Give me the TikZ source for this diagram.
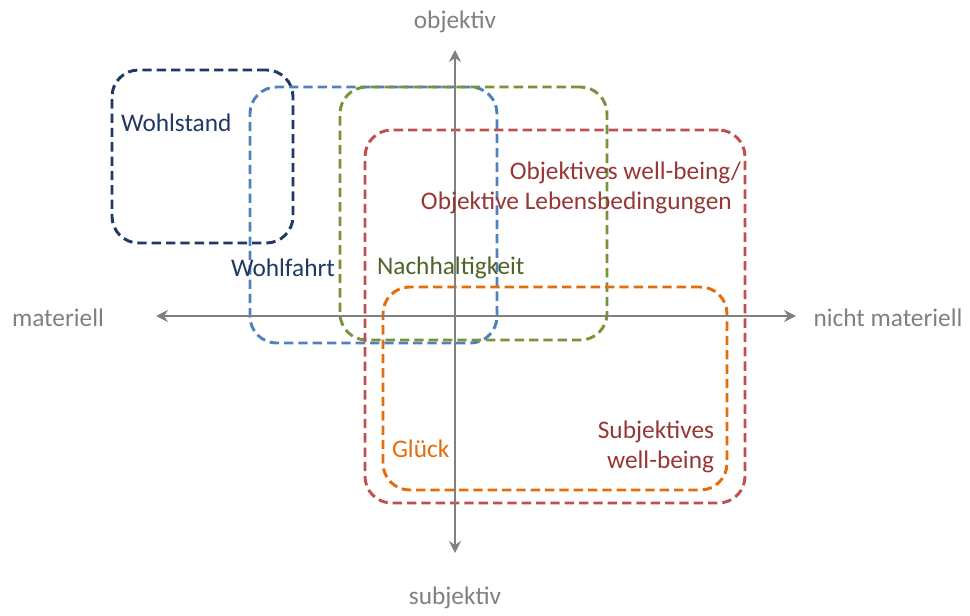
\documentclass[tikz,border=0pt]{standalone}
\usepackage{fontspec}
\setmainfont{Carlito}
\usetikzlibrary{arrows.meta}
\definecolor{navyc}{RGB}{31,56,100}
\definecolor{bluec}{RGB}{79,129,189}
\definecolor{greenc}{RGB}{119,147,60}
\definecolor{redc}{RGB}{192,80,77}
\definecolor{orangec}{RGB}{228,108,10}
\definecolor{navyt}{RGB}{31,56,100}
\definecolor{greent}{RGB}{79,98,40}
\definecolor{redt}{RGB}{149,55,53}
\definecolor{grayc}{RGB}{128,128,128}
\tikzset{
  region/.style={draw, rectangle, rounded corners=20pt, line width=2.2pt,
    dash pattern=on 7pt off 3.75pt, inner sep=0pt, outer sep=0pt},
  lbl/.style={inner sep=0pt, outer sep=0pt, font=\fontsize{19}{22.5}\selectfont},
  axis/.style={draw=grayc, line width=1.9pt,
    {Stealth[length=9pt,width=9pt,inset=3pt]}-{Stealth[length=9pt,width=9pt,inset=3pt]}}
}
\begin{document}
\begin{tikzpicture}[x=0.75pt,y=-0.75pt]
\useasboundingbox (0,0) rectangle (970,616);
% regions
\node[region, draw=navyc, minimum width=135.75pt, minimum height=129.75pt] (wohlstand) at (202.5,156.5) {};
\node[region, draw=bluec, minimum width=185.25pt, minimum height=192pt] (wohlfahrt) at (373.5,215) {};
\node[region, draw=greenc, minimum width=200.25pt, minimum height=189.75pt] (nachh) at (473.5,213.5) {};
\node[region, draw=redc, minimum width=285pt, minimum height=279.75pt] (owb) at (555,316.5) {};
\node[region, draw=orangec, minimum width=258pt, minimum height=152.25pt] (glueck) at (555,388.5) {};
% axes
\coordinate (xl) at (156,316);
\coordinate (xr) at (796,316);
\coordinate (yt) at (455,50);
\coordinate (yb) at (455,553);
\draw[axis] (xl) -- (xr);
\draw[axis] (yb) -- (yt);
% axis labels
\node[lbl, text=grayc] (lobj) at (455,22) {objektiv};
\node[lbl, text=grayc] (lsubj) at (455,598) {subjektiv};
\node[lbl, text=grayc] (lmat) at (58,318) {materiell};
\node[lbl, text=grayc] (lnmat) at (888,318) {nicht materiell};
% region labels
\node[lbl, text=navyt, anchor=west] (t1) at (121,123) {Wohlstand};
\node[lbl, text=navyt, anchor=west] (t2) at (231,268) {Wohlfahrt};
\node[lbl, text=greent, anchor=west] (t3) at (377,268) {Nachhaltigkeit};
\node[lbl, text=redt, anchor=east, align=right] (t4) at (741,188) {Objektives well-being/\\Objektive Lebensbedingungen\kern7pt};
\node[lbl, text=redt, anchor=east, align=right] (t5) at (714,447) {Subjektives\\well-being};
\node[lbl, text=orangec, anchor=west] (t6) at (392,449) {Glück};
\end{tikzpicture}
\end{document}
